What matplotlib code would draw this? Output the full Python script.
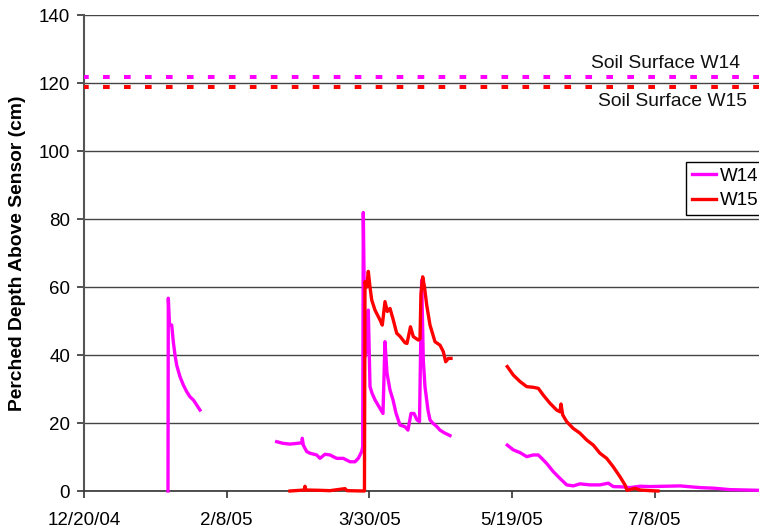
import numpy as np
import matplotlib
matplotlib.use("Agg")
import matplotlib.pyplot as plt

plt.rcParams['font.family'] = ['Liberation Sans', 'DejaVu Sans']
plt.rcParams['lines.scale_dashes'] = False

nan = np.nan
# Days since 12/20/04
w14_days = [29.44, 29.55, 29.97, 30.74, 31.30, 31.90, 32.49, 33.65, 34.81, 36.00, 37.15, 38.31, 39.50, 40.66,
            nan,
            67.54, 69.86, 72.20, 74.55, 76.40, 76.51, 76.87, 78.06, 79.22, 81.56, 82.72, 84.47, 86.22, 88.57,
            90.89, 93.23, 94.99, 96.14, 97.34, 97.69, 97.90, 98.49, 99.09, 99.65, 100.25, 100.95, 102.0,
            103.05, 104.8, 105.5, 106.2, 107.26, 108.31, 109.36, 110.76, 112.51, 113.56, 114.62, 115.67,
            116.72, 117.6, 118.36, 118.93, 119.52, 120.57, 121.28, 122.33, 123.73, 124.78, 126.53, 128.29,
            nan,
            148.37, 150.47, 152.82, 155.17, 157.48, 159.24, 160.43, 162.18, 164.49, 166.84, 169.19, 171.50,
            173.85, 177.36, 180.86, 183.77, 185.52, 189.03, 191.38, 194.88, 198.39, 203.65, 208.9, 215.9,
            221.2, 226.4, 231.7, 236.6]
w14_vals = [0.0, 56.7, 49.0, 48.8, 43.9, 40.0, 37.0, 33.6, 31.2, 29.2, 27.7, 26.8, 25.3, 23.8,
            nan,
            14.5, 14.0, 13.8, 14.0, 14.2, 15.5, 13.5, 11.6, 11.1, 10.6, 9.6, 10.8, 10.6, 9.6,
            9.6, 8.6, 8.6, 9.6, 11.6, 13.0, 81.9, 39.5, 41.5, 53.2, 30.7, 28.8, 26.8,
            25.3, 22.8, 43.9, 34.7, 29.7, 26.8, 22.9, 19.4, 18.9, 17.9, 22.8, 22.8,
            20.9, 20.4, 62.0, 38.5, 30.7, 23.8, 20.9, 19.9, 18.9, 17.9, 17.0, 16.3,
            nan,
            13.5, 12.1, 11.3, 10.1, 10.6, 10.6, 9.6, 8.1, 5.7, 3.7, 1.8, 1.5,
            2.1, 1.8, 1.8, 2.3, 1.3, 1.2, 1.0, 1.4, 1.3, 1.4, 1.5, 1.0,
            0.8, 0.4, 0.3, 0.2]

w15_days = [72.2, 75.71, 77.3, 77.46, 77.6, 82.72, 86.22, 91.48, 92.2, 98.3, 98.49, 99.09, 99.65, 100.25,
            100.84, 102.0, 103.75, 104.56, 105.5, 106.31, 107.26, 108.41, 109.6, 110.76, 112.51, 113.21,
            114.44, 115.43, 117.18, 117.77, 118.12, 118.72, 119.35, 120.12, 121.28, 123.03, 124.78,
            125.94, 126.78, 127.70, 128.64,
            nan,
            148.37, 150.47, 152.82, 155.17, 157.48, 159.24, 160.99, 163.34, 165.69, 166.84, 167.19,
            167.79, 169.19, 171.50, 173.85, 176.20, 178.51, 180.86, 183.21, 185.52, 187.87, 189.62,
            190.33, 193.13, 194.88, 198.39, 201.19]
w15_vals = [0.0, 0.2, 0.3, 1.4, 0.3, 0.2, 0.1, 0.7, 0.1, 0.0, 61.6, 60.0, 64.6, 60.0,
            56.2, 53.2, 50.3, 48.8, 55.7, 52.8, 53.7, 50.3, 46.4, 45.5, 43.6, 43.4,
            48.3, 45.4, 44.4, 44.8, 58.0, 63.0, 60.0, 54.7, 48.8, 43.9, 42.9,
            41.0, 38.0, 39.0, 39.0,
            nan,
            36.6, 34.1, 32.2, 30.7, 30.5, 30.2, 28.2, 25.8, 23.8, 23.3, 25.6,
            22.4, 20.4, 18.4, 17.0, 15.0, 13.5, 11.1, 9.6, 7.1, 4.2, 1.8,
            0.2, 0.8, 0.3, 0.1, 0.0]

surface_w14 = 121.8
surface_w15 = 118.8

tick_days = [0, 50, 100, 150, 200]
tick_labels = ["12/20/04", "2/8/05", "3/30/05", "5/19/05", "7/8/05"]
y_ticks = [0, 20, 40, 60, 80, 100, 120, 140]

W, H = 759, 529
fig = plt.figure(figsize=(W / 100, H / 100), dpi=100)
ax = fig.add_axes([84 / W, 1 - 491 / H, 1 - 84 / W, (491 - 15) / H])

fs = 13.5
ax.set_xlim(0, 236.6)
ax.set_ylim(0, 140)
ax.set_yticks(y_ticks)
ax.set_xticks(tick_days)
ax.set_xticklabels(tick_labels)
ax.tick_params(axis='both', labelsize=fs, length=5, width=1.2, color='#333333', direction='out', pad=5)
ax.tick_params(axis='x', pad=10)
ax.grid(axis='y', color='#444444', linewidth=1.0)
ax.set_axisbelow(True)
for s in ['top', 'right']:
    ax.spines[s].set_visible(False)
ax.spines['left'].set_color('#555555')
ax.spines['left'].set_linewidth(1.5)
ax.spines['bottom'].set_color('#333333')
ax.spines['bottom'].set_linewidth(1.2)

ax.axhline(surface_w14, color='#FF00FF', linewidth=2.9, linestyle=(1.4, (4.8, 10.3)), dash_capstyle='butt', zorder=3)
ax.axhline(surface_w15, color='#FF0000', linewidth=2.9, linestyle=(1.4, (4.8, 10.3)), dash_capstyle='butt', zorder=3)

ax.plot(w14_days, w14_vals, color='#FF00FF', linewidth=2.4, label='W14', zorder=4, clip_on=False)
ax.plot(w15_days, w15_vals, color='#FF0000', linewidth=2.4, label='W15', zorder=5, clip_on=False)

ax.text(740 / W, 1 - 63 / H, "Soil Surface W14", transform=fig.transFigure, ha='right', va='center', fontsize=13.9, color='#111111')
ax.text(747 / W, 1 - 101 / H, "Soil Surface W15", transform=fig.transFigure, ha='right', va='center', fontsize=13.9, color='#111111')

ax.set_ylabel("Perched Depth Above Sensor (cm)", fontsize=13.9, fontweight='bold', labelpad=9)

leg = ax.legend(loc='upper left', bbox_to_anchor=(686 / W, 1 - 162 / H), bbox_transform=fig.transFigure,
                fontsize=fs, frameon=True, fancybox=False, framealpha=1, edgecolor='black',
                handlelength=1.3, handletextpad=0.2, labelspacing=0.4, borderpad=0.3, borderaxespad=0)
leg.get_frame().set_linewidth(1.0)

fig.savefig("out.png", dpi=100)
